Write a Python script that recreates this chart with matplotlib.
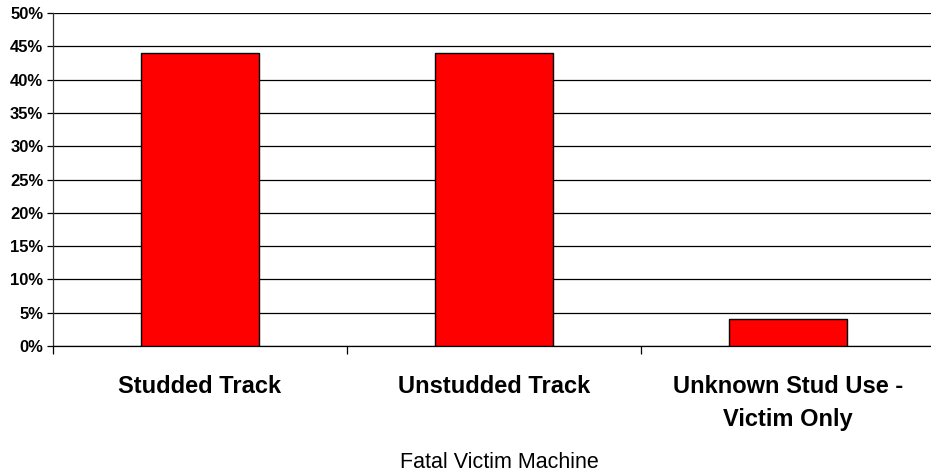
import numpy as np
import matplotlib.pyplot as plt
from matplotlib.ticker import PercentFormatter

categories = ["Studded Track", "Unstudded Track", "Unknown Stud Use -\nVictim Only"]
values = [44, 44, 4]
yticks = list(range(0, 55, 5))

plt.rcParams['font.family'] = ['Liberation Sans', 'DejaVu Sans']

fig = plt.figure(figsize=(9.31, 4.76), dpi=100)
ax = fig.add_axes([53/931, 1 - 346/476, (935 - 53)/931, (346 - 13)/476])

x = np.arange(len(categories))
ax.bar(x, values, width=0.4, color='#ff0000', edgecolor='black', linewidth=1.0, zorder=3)

ax.set_xlim(-0.5, len(categories) - 0.5)
ax.set_ylim(0, 50)
ax.set_yticks(yticks)
ax.yaxis.set_major_formatter(PercentFormatter(decimals=0))
ax.grid(axis='y', color='black', linewidth=0.9, zorder=0)
ax.set_axisbelow(True)

for s in ['top', 'right']:
    ax.spines[s].set_visible(False)
ax.spines['left'].set_linewidth(0.9)
ax.spines['bottom'].set_linewidth(0.9)
ax.spines['left'].set_color('#333333')

ax.set_xticks(x)
ax.set_xticklabels(categories, fontsize=17, fontweight='bold', linespacing=1.55)
ax.tick_params(axis='x', length=0, pad=21)
ax.set_xticks([-0.5, 0.5, 1.5], minor=True)
ax.tick_params(axis='x', which='minor', length=6, width=0.9, direction='out')
ax.tick_params(axis='y', labelsize=12, length=4, width=0.9, pad=3)
for lab in ax.get_yticklabels():
    lab.set_fontweight('bold')

fig.text(499/931, 1 - 462/476, "Fatal Victim Machine", ha='center', va='center', fontsize=15.5)

fig.savefig('out.png', dpi=100)
